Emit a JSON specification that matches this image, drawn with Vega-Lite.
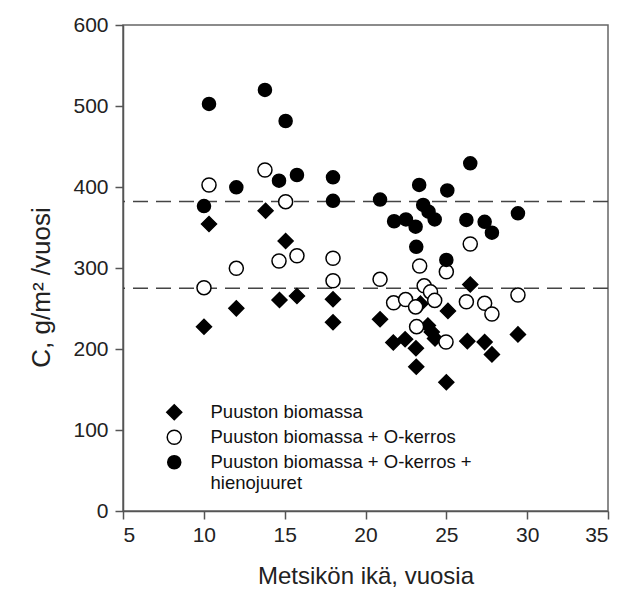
{
  "$schema": "https://vega.github.io/schema/vega-lite/v6.json",
  "width": 485,
  "height": 486,
  "autosize": {"type": "none"},
  "padding": {"left": 123, "top": 25, "right": 24, "bottom": 92},
  "background": "white",
  "config": {
    "font": "Liberation Sans",
    "view": {"stroke": "#666", "strokeWidth": 1.5},
    "axis": {
      "grid": false,
      "domainColor": "#555",
      "domainWidth": 1.5,
      "tickColor": "#555",
      "tickWidth": 1.5,
      "tickSize": 8,
      "labelFontSize": 21,
      "labelColor": "#222",
      "titleFontSize": 24,
      "titleFontWeight": "normal",
      "titleColor": "#222"
    }
  },
  "layer": [
    {
      "data": {"values": [{"ref": 382}, {"ref": 275}]},
      "mark": {"type": "rule", "color": "#444", "strokeWidth": 1.5, "strokeDash": [15, 8]},
      "encoding": {
        "y": {"field": "ref", "type": "quantitative", "scale": {"domain": [0, 600]}}
      }
    },
    {
      "data": {
        "values": [
          {"age": 10.01, "c": 227.5, "series": "Puuston biomassa"},
          {"age": 10.32, "c": 354.3, "series": "Puuston biomassa"},
          {"age": 12.01, "c": 250.2, "series": "Puuston biomassa"},
          {"age": 13.82, "c": 370.7, "series": "Puuston biomassa"},
          {"age": 14.68, "c": 260.5, "series": "Puuston biomassa"},
          {"age": 15.06, "c": 333.3, "series": "Puuston biomassa"},
          {"age": 15.76, "c": 265.4, "series": "Puuston biomassa"},
          {"age": 17.99, "c": 261.4, "series": "Puuston biomassa"},
          {"age": 17.99, "c": 233.0, "series": "Puuston biomassa"},
          {"age": 20.9, "c": 236.7, "series": "Puuston biomassa"},
          {"age": 21.72, "c": 208.0, "series": "Puuston biomassa"},
          {"age": 22.45, "c": 212.0, "series": "Puuston biomassa"},
          {"age": 23.12, "c": 201.0, "series": "Puuston biomassa"},
          {"age": 23.14, "c": 178.1, "series": "Puuston biomassa"},
          {"age": 23.4, "c": 256.0, "series": "Puuston biomassa"},
          {"age": 23.86, "c": 229.0, "series": "Puuston biomassa"},
          {"age": 24.1, "c": 221.0, "series": "Puuston biomassa"},
          {"age": 24.3, "c": 213.0, "series": "Puuston biomassa"},
          {"age": 25.1, "c": 247.0, "series": "Puuston biomassa"},
          {"age": 25.0, "c": 159.0, "series": "Puuston biomassa"},
          {"age": 26.3, "c": 209.7, "series": "Puuston biomassa"},
          {"age": 26.48, "c": 279.6, "series": "Puuston biomassa"},
          {"age": 27.37, "c": 208.5, "series": "Puuston biomassa"},
          {"age": 27.82, "c": 193.3, "series": "Puuston biomassa"},
          {"age": 29.43, "c": 218.0, "series": "Puuston biomassa"},
          {"age": 10.01, "c": 275.7, "series": "Puuston biomassa + O-kerros"},
          {"age": 10.32, "c": 402.5, "series": "Puuston biomassa + O-kerros"},
          {"age": 12.01, "c": 299.6, "series": "Puuston biomassa + O-kerros"},
          {"age": 13.78, "c": 421.0, "series": "Puuston biomassa + O-kerros"},
          {"age": 14.65, "c": 308.6, "series": "Puuston biomassa + O-kerros"},
          {"age": 15.06, "c": 381.9, "series": "Puuston biomassa + O-kerros"},
          {"age": 15.76, "c": 315.2, "series": "Puuston biomassa + O-kerros"},
          {"age": 17.99, "c": 312.0, "series": "Puuston biomassa + O-kerros"},
          {"age": 17.99, "c": 284.3, "series": "Puuston biomassa + O-kerros"},
          {"age": 20.9, "c": 286.0, "series": "Puuston biomassa + O-kerros"},
          {"age": 21.74, "c": 257.0, "series": "Puuston biomassa + O-kerros"},
          {"age": 22.48, "c": 261.0, "series": "Puuston biomassa + O-kerros"},
          {"age": 23.1, "c": 252.0, "series": "Puuston biomassa + O-kerros"},
          {"age": 23.16, "c": 227.6, "series": "Puuston biomassa + O-kerros"},
          {"age": 23.35, "c": 302.5, "series": "Puuston biomassa + O-kerros"},
          {"age": 23.63, "c": 278.0, "series": "Puuston biomassa + O-kerros"},
          {"age": 24.02, "c": 270.5, "series": "Puuston biomassa + O-kerros"},
          {"age": 24.28, "c": 260.0, "series": "Puuston biomassa + O-kerros"},
          {"age": 25.0, "c": 295.4, "series": "Puuston biomassa + O-kerros"},
          {"age": 24.98, "c": 208.6, "series": "Puuston biomassa + O-kerros"},
          {"age": 26.24, "c": 258.4, "series": "Puuston biomassa + O-kerros"},
          {"age": 26.48, "c": 329.6, "series": "Puuston biomassa + O-kerros"},
          {"age": 27.37, "c": 256.4, "series": "Puuston biomassa + O-kerros"},
          {"age": 27.82, "c": 243.2, "series": "Puuston biomassa + O-kerros"},
          {"age": 29.43, "c": 266.7, "series": "Puuston biomassa + O-kerros"},
          {"age": 10.01, "c": 376.5, "series": "Puuston biomassa + O-kerros + hienojuuret"},
          {"age": 10.32, "c": 502.5, "series": "Puuston biomassa + O-kerros + hienojuuret"},
          {"age": 12.01, "c": 399.6, "series": "Puuston biomassa + O-kerros + hienojuuret"},
          {"age": 13.78, "c": 519.8, "series": "Puuston biomassa + O-kerros + hienojuuret"},
          {"age": 14.65, "c": 407.8, "series": "Puuston biomassa + O-kerros + hienojuuret"},
          {"age": 15.06, "c": 481.5, "series": "Puuston biomassa + O-kerros + hienojuuret"},
          {"age": 15.76, "c": 414.8, "series": "Puuston biomassa + O-kerros + hienojuuret"},
          {"age": 17.99, "c": 412.0, "series": "Puuston biomassa + O-kerros + hienojuuret"},
          {"age": 17.99, "c": 383.0, "series": "Puuston biomassa + O-kerros + hienojuuret"},
          {"age": 20.9, "c": 384.5, "series": "Puuston biomassa + O-kerros + hienojuuret"},
          {"age": 21.77, "c": 357.7, "series": "Puuston biomassa + O-kerros + hienojuuret"},
          {"age": 22.5, "c": 360.0, "series": "Puuston biomassa + O-kerros + hienojuuret"},
          {"age": 23.1, "c": 351.0, "series": "Puuston biomassa + O-kerros + hienojuuret"},
          {"age": 23.14, "c": 326.2, "series": "Puuston biomassa + O-kerros + hienojuuret"},
          {"age": 23.32, "c": 402.5, "series": "Puuston biomassa + O-kerros + hienojuuret"},
          {"age": 23.57, "c": 377.8, "series": "Puuston biomassa + O-kerros + hienojuuret"},
          {"age": 23.9, "c": 369.5, "series": "Puuston biomassa + O-kerros + hienojuuret"},
          {"age": 24.28, "c": 360.0, "series": "Puuston biomassa + O-kerros + hienojuuret"},
          {"age": 25.0, "c": 310.0, "series": "Puuston biomassa + O-kerros + hienojuuret"},
          {"age": 25.06, "c": 395.8, "series": "Puuston biomassa + O-kerros + hienojuuret"},
          {"age": 26.24, "c": 359.3, "series": "Puuston biomassa + O-kerros + hienojuuret"},
          {"age": 26.48, "c": 429.3, "series": "Puuston biomassa + O-kerros + hienojuuret"},
          {"age": 27.37, "c": 357.0, "series": "Puuston biomassa + O-kerros + hienojuuret"},
          {"age": 27.82, "c": 343.6, "series": "Puuston biomassa + O-kerros + hienojuuret"},
          {"age": 29.43, "c": 367.5, "series": "Puuston biomassa + O-kerros + hienojuuret"}
        ]
      },
      "mark": {"type": "point", "filled": false, "strokeWidth": 1.5, "stroke": "black", "opacity": 1},
      "encoding": {
        "x": {
          "field": "age", "type": "quantitative",
          "scale": {"domain": [5, 35], "nice": false, "zero": false},
          "axis": {"values": [5, 10, 15, 20, 25, 30, 35], "title": "Metsikön ikä, vuosia", "titlePadding": 19, "labelPadding": 5}
        },
        "y": {
          "field": "c", "type": "quantitative",
          "scale": {"domain": [0, 600], "nice": false},
          "axis": {"values": [0, 100, 200, 300, 400, 500, 600], "title": "C, g/m² /vuosi", "titleFontSize": 26, "titleY": 262, "titlePadding": 18, "labelPadding": 7}
        },
        "shape": {
          "field": "series", "type": "nominal",
          "scale": {"domain": ["Puuston biomassa", "Puuston biomassa + O-kerros", "Puuston biomassa + O-kerros + hienojuuret"], "range": ["diamond", "circle", "circle"]},
          "legend": {
            "title": null,
            "orient": "none",
            "legendX": 42,
            "legendY": 378,
            "padding": 0,
            "labelFontSize": 18.5,
            "labelColor": "#111",
            "labelOffset": 27,
            "rowPadding": 4,
            "labelLimit": 400,
            "symbolStrokeWidth": 1.5,
            "labelExpr": "datum.label == 'Puuston biomassa + O-kerros + hienojuuret' ? ['Puuston biomassa + O-kerros +', ' hienojuuret'] : datum.label"
          }
        },
        "fill": {
          "field": "series", "type": "nominal",
          "scale": {"domain": ["Puuston biomassa", "Puuston biomassa + O-kerros", "Puuston biomassa + O-kerros + hienojuuret"], "range": ["black", "white", "black"]}
        },
        "size": {
          "field": "series", "type": "nominal",
          "scale": {"domain": ["Puuston biomassa", "Puuston biomassa + O-kerros", "Puuston biomassa + O-kerros + hienojuuret"], "range": [225, 170, 196]}
        }
      }
    }
  ]
}
